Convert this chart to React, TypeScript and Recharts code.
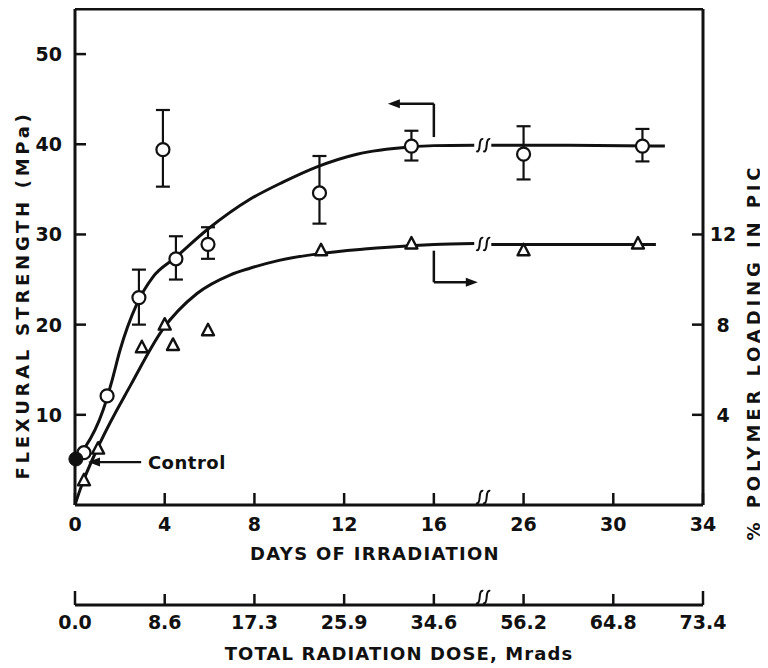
import React from 'react';
import {
  ComposedChart,
  Line,
  Scatter,
  XAxis,
  YAxis,
  ErrorBar,
  ReferenceLine,
  ReferenceDot,
  Label,
} from 'recharts';

// ---- broken day axis: 16..26 days squeezed into 4 axis units, then linear again ----
const toPos = (day: number) => (day <= 16 ? day : day <= 26 ? 16 + (day - 16) * 0.4 : day - 6);
const BREAK_DAY = 21.5;
const BREAK_POS = toPos(BREAK_DAY);

// ---- tick labels ----
const DAY_TICKS = [0, 4, 8, 12, 16, 26, 30, 34];
const DOSE_LABELS = ['0.0', '8.6', '17.3', '25.9', '34.6', '56.2', '64.8', '73.4'];
const MPA_TICKS = [10, 20, 30, 40, 50];
const PCT_TICKS = [4, 8, 12];

// ---- flexural strength (circles, MPa, left axis) ----
const STRENGTH_DAYS = [0.4, 1.43, 2.85, 3.92, 4.5, 5.93, 10.9, 15.0, 26.0, 31.3];
const STRENGTH_MPA = [5.8, 12.1, 23.0, 39.4, 27.3, 28.9, 34.6, 39.8, 38.9, 39.8];
const STRENGTH_LOW = [5.8, 12.1, 20.0, 35.3, 25.0, 27.3, 31.2, 38.2, 36.1, 38.1];
const STRENGTH_HIGH = [5.8, 12.1, 26.1, 43.8, 29.8, 30.8, 38.7, 41.5, 42.0, 41.7];

// ---- polymer loading (triangles, %, right axis) ----
const LOADING_DAYS = [0.4, 1.03, 2.98, 4.0, 4.37, 5.93, 10.97, 15.0, 26.0, 31.1];
const LOADING_PCT = [1.1, 2.5, 7.0, 8.0, 7.1, 7.75, 11.3, 11.6, 11.3, 11.6];

// ---- control ----
const CONTROL_DAYS = [0.04];
const CONTROL_MPA = [5.1];

// ---- hand-drawn curves (split at the axis break) ----
const S_CURVE_DAYS_A = [0, 0.45, 1.25, 1.65, 2.0, 2.76, 3.48, 4.46, 5.93, 7.8, 9.27, 10.79, 12.57, 14.94, 16, 20.5];
const S_CURVE_MPA_A = [5.1, 6.4, 10.5, 13.8, 17.1, 22.3, 25.3, 27.4, 30.6, 33.9, 35.8, 37.5, 38.9, 39.7, 39.85, 39.9];
const S_CURVE_DAYS_B = [22.4, 28, 32.3];
const S_CURVE_MPA_B = [39.9, 39.9, 39.8];

const L_CURVE_DAYS_A = [0, 0.22, 1.11, 2.5, 3.92, 5.44, 6.91, 7.8, 9.1, 10.92, 12.9, 14.94, 16, 20.5];
const L_CURVE_PCT_A = [0, 0.66, 2.74, 5.35, 7.8, 9.38, 10.2, 10.5, 10.85, 11.15, 11.35, 11.5, 11.55, 11.6];
const L_CURVE_DAYS_B = [22.4, 28, 31.9];
const L_CURVE_PCT_B = [11.55, 11.55, 11.55];

// ---- build series ----
const zip = (xs: number[], ys: number[]) => xs.map((d, i) => ({ x: toPos(d), y: ys[i] }));
const strengthData = STRENGTH_DAYS.map((d, i) => ({
  x: toPos(d),
  y: STRENGTH_MPA[i],
  err: [STRENGTH_MPA[i] - STRENGTH_LOW[i], STRENGTH_HIGH[i] - STRENGTH_MPA[i]],
}));
const loadingData = zip(LOADING_DAYS, LOADING_PCT);
const controlData = zip(CONTROL_DAYS, CONTROL_MPA);
const sCurve = [...zip(S_CURVE_DAYS_A, S_CURVE_MPA_A), { x: BREAK_POS, y: null }, ...zip(S_CURVE_DAYS_B, S_CURVE_MPA_B)];
const lCurve = [...zip(L_CURVE_DAYS_A, L_CURVE_PCT_A), { x: BREAK_POS, y: null }, ...zip(L_CURVE_DAYS_B, L_CURVE_PCT_B)];
const tickPositions = DAY_TICKS.map(toPos);
const axisTicks = [...tickPositions.slice(0, 5), BREAK_POS, ...tickPositions.slice(5)];
const doseAnchor = tickPositions.map((p) => ({ x: p, y: 0 }));

const FONT = "'DejaVu Sans', sans-serif";
const INK = '#111';

const BreakMark = ({ x, y }: { x: number; y: number }) => (
  <g stroke={INK} strokeWidth={2} fill="none">
    {[-3.5, 3.5].map((dx) => (
      <path
        key={dx}
        d={`M ${x + dx - 3.5} ${y + 6} Q ${x + dx - 0.5} ${y + 7.5} ${x + dx} ${y} Q ${x + dx + 0.5} ${y - 7.5} ${x + dx + 3.5} ${y - 6}`}
      />
    ))}
  </g>
);

const tickText = {
  fontFamily: FONT,
  fontSize: 19,
  fontWeight: 700,
  fill: INK,
};

const DayTick = (props: any) => {
  const { x, y, payload } = props;
  if (payload.value === BREAK_POS) return <BreakMark x={x} y={y - 8} />;
  const i = tickPositions.indexOf(payload.value);
  return (
    <g>
      <line x1={x} y1={y} x2={x} y2={y - 12} stroke={INK} strokeWidth={2.5} />
      <text x={x} y={y + 19} textAnchor="middle" dominantBaseline="central" {...tickText}>
        {DAY_TICKS[i]}
      </text>
    </g>
  );
};

const DoseTick = (props: any) => {
  const { x, y, payload } = props;
  if (payload.value === BREAK_POS) return <BreakMark x={x} y={y - 8} />;
  const i = tickPositions.indexOf(payload.value);
  const len = i === 0 || i === tickPositions.length - 1 ? 14 : 11;
  return (
    <g>
      <line x1={x} y1={y} x2={x} y2={y - len} stroke={INK} strokeWidth={2.5} />
      <text x={x} y={y + 17} textAnchor="middle" dominantBaseline="central" {...tickText}>
        {DOSE_LABELS[i]}
      </text>
    </g>
  );
};

const LeftTick = (props: any) => {
  const { x, y, payload } = props;
  return (
    <g>
      <line x1={x} y1={y} x2={x + 11} y2={y} stroke={INK} strokeWidth={2.5} />
      <text x={x - 13} y={y} textAnchor="end" dominantBaseline="central" {...tickText}>
        {payload.value}
      </text>
    </g>
  );
};

const RightTick = (props: any) => {
  const { x, y, payload } = props;
  return (
    <g>
      <line x1={x} y1={y} x2={x - 11} y2={y} stroke={INK} strokeWidth={2.5} />
      <text x={x + 20} y={y} textAnchor="middle" dominantBaseline="central" {...tickText}>
        {payload.value}
      </text>
    </g>
  );
};

const titleBase = {
  fontFamily: FONT,
  fontSize: 18,
  fontWeight: 700,
  fill: INK,
};

const OpenCircle = (p: any) => (
  <circle cx={p.cx} cy={p.cy} r={6.5} fill="#fff" stroke={INK} strokeWidth={2.2} />
);
const FilledCircle = (p: any) => <circle cx={p.cx} cy={p.cy} r={7} fill={INK} stroke={INK} />;
const OpenTriangle = (p: any) => (
  <path
    d={`M ${p.cx} ${p.cy - 6.5} L ${p.cx + 6} ${p.cy + 5} L ${p.cx - 6} ${p.cy + 5} Z`}
    fill="#fff"
    stroke={INK}
    strokeWidth={2.4}
    strokeLinejoin="round"
  />
);
const Nothing = () => <g />;

const HeadLeft = (p: any) => (
  <path d={`M ${p.cx} ${p.cy} L ${p.cx + 12} ${p.cy - 4.5} L ${p.cx + 12} ${p.cy + 4.5} Z`} fill={INK} />
);
const HeadRight = (p: any) => (
  <path d={`M ${p.cx} ${p.cy} L ${p.cx - 12} ${p.cy - 4.5} L ${p.cx - 12} ${p.cy + 4.5} Z`} fill={INK} />
);
const ControlText = (p: any) => (
  <text
    x={p.cx}
    y={p.cy}
    dominantBaseline="central"
    fontFamily={FONT}
    fontSize={18}
    fontWeight={700}
    fill={INK}
    letterSpacing={0.5}
  >
    Control
  </text>
);
const CurveBreak = (p: any) => <BreakMark x={p.cx} y={p.cy} />;

export default function App() {
  const lineProps = {
    type: 'monotone' as const,
    dataKey: 'y',
    stroke: INK,
    strokeWidth: 3,
    dot: false,
    activeDot: false,
    connectNulls: false,
    isAnimationActive: false,
    xAxisId: 'days',
  };
  return (
    <ComposedChart
      width={760}
      height={660}
      margin={{ top: 1, right: 20, bottom: 3, left: 20 }}
      style={{ background: '#fff' }}
    >
      <XAxis
        xAxisId="days"
        dataKey="x"
        type="number"
        domain={[0, 28]}
        ticks={axisTicks}
        interval={0}
        tick={<DayTick />}
        tickLine={false}
        tickSize={0}
        tickMargin={0}
        height={100}
        axisLine={{ stroke: INK, strokeWidth: 3 }}
      >
        <Label
          content={(p: any) => (
            <text
              x={p.viewBox.x + 300}
              y={p.viewBox.y + 48}
              textAnchor="middle"
              dominantBaseline="central"
              {...titleBase}
              letterSpacing={1.3}
            >
              DAYS OF IRRADIATION
            </text>
          )}
        />
      </XAxis>
      <XAxis
        xAxisId="dose"
        dataKey="x"
        type="number"
        domain={[0, 28]}
        ticks={axisTicks}
        interval={0}
        tick={<DoseTick />}
        tickLine={false}
        tickSize={0}
        tickMargin={0}
        height={60}
        axisLine={{ stroke: INK, strokeWidth: 3 }}
      >
        <Label
          content={(p: any) => (
            <text
              x={p.viewBox.x + 324}
              y={p.viewBox.y + 48}
              textAnchor="middle"
              dominantBaseline="central"
              {...titleBase}
              letterSpacing={1.1}
            >
              TOTAL RADIATION DOSE, Mrads
            </text>
          )}
        />
      </XAxis>
      <YAxis
        yAxisId="left"
        type="number"
        domain={[0, 55]}
        ticks={MPA_TICKS}
        interval={0}
        tick={<LeftTick />}
        tickLine={false}
        tickSize={0}
        tickMargin={0}
        width={47}
        axisLine={{ stroke: INK, strokeWidth: 3 }}
      >
        <Label
          content={(p: any) => {
            const cx = p.viewBox.x - 6;
            const cy = p.viewBox.y + p.viewBox.height / 2 + 38;
            return (
              <text
                x={cx}
                y={cy}
                transform={`rotate(-90 ${cx} ${cy})`}
                textAnchor="middle"
                dominantBaseline="central"
                {...titleBase}
                letterSpacing={3.7}
              >
                FLEXURAL STRENGTH (MPa)
              </text>
            );
          }}
        />
      </YAxis>
      <YAxis
        yAxisId="right"
        orientation="right"
        type="number"
        domain={[0, 22]}
        ticks={PCT_TICKS}
        interval={0}
        tick={<RightTick />}
        tickLine={false}
        tickSize={0}
        tickMargin={0}
        width={45}
        axisLine={{ stroke: INK, strokeWidth: 3 }}
      >
        <Label
          content={(p: any) => {
            const cx = p.viewBox.x + 50;
            const cy = p.viewBox.y + p.viewBox.height / 2 + 95;
            return (
              <text
                x={cx}
                y={cy}
                transform={`rotate(-90 ${cx} ${cy})`}
                textAnchor="middle"
                dominantBaseline="central"
                {...titleBase}
                letterSpacing={3.9}
              >
                % POLYMER LOADING IN PIC
              </text>
            );
          }}
        />
      </YAxis>

      {/* top frame */}
      <ReferenceLine xAxisId="days" yAxisId="left" y={55} stroke={INK} strokeWidth={3} ifOverflow="extendDomain" />

      {/* curves */}
      <Line {...lineProps} yAxisId="left" data={sCurve} />
      <Line {...lineProps} yAxisId="right" data={lCurve} />
      <ReferenceDot xAxisId="days" yAxisId="left" x={BREAK_POS} y={39.9} shape={<CurveBreak />} />
      <ReferenceDot xAxisId="days" yAxisId="right" x={BREAK_POS} y={11.58} shape={<CurveBreak />} />

      {/* axis-direction arrows */}
      <ReferenceLine xAxisId="days" yAxisId="left" segment={[{ x: 16, y: 40.8 }, { x: 16, y: 44.5 }]} stroke={INK} strokeWidth={2.5} />
      <ReferenceLine xAxisId="days" yAxisId="left" segment={[{ x: 16, y: 44.5 }, { x: 14.4, y: 44.5 }]} stroke={INK} strokeWidth={2.5} />
      <ReferenceDot xAxisId="days" yAxisId="left" x={13.95} y={44.5} shape={<HeadLeft />} />
      <ReferenceLine xAxisId="days" yAxisId="left" segment={[{ x: 16, y: 28.2 }, { x: 16, y: 24.7 }]} stroke={INK} strokeWidth={2.5} />
      <ReferenceLine xAxisId="days" yAxisId="left" segment={[{ x: 16, y: 24.7 }, { x: toPos(19.8), y: 24.7 }]} stroke={INK} strokeWidth={2.5} />
      <ReferenceDot xAxisId="days" yAxisId="left" x={toPos(20.9)} y={24.7} shape={<HeadRight />} />

      {/* control annotation */}
      <ReferenceLine xAxisId="days" yAxisId="left" segment={[{ x: 1.0, y: 4.76 }, { x: 2.95, y: 4.76 }]} stroke={INK} strokeWidth={2.2} />
      <ReferenceDot xAxisId="days" yAxisId="left" x={0.58} y={4.76} shape={<HeadLeft />} />
      <ReferenceDot xAxisId="days" yAxisId="left" x={3.25} y={4.76} shape={<ControlText />} />

      {/* data points */}
      <Scatter xAxisId="days" yAxisId="left" data={strengthData} dataKey="y" shape={<OpenCircle />} isAnimationActive={false}>
        <ErrorBar dataKey="err" direction="y" width={7} stroke={INK} strokeWidth={2.2} isAnimationActive={false} />
      </Scatter>
      <Scatter xAxisId="days" yAxisId="right" data={loadingData} dataKey="y" shape={<OpenTriangle />} isAnimationActive={false} />
      <Scatter xAxisId="days" yAxisId="left" data={controlData} dataKey="y" shape={<FilledCircle />} isAnimationActive={false} />
      <Scatter xAxisId="dose" yAxisId="left" data={doseAnchor} dataKey="y" shape={<Nothing />} isAnimationActive={false} />
    </ComposedChart>
  );
}
